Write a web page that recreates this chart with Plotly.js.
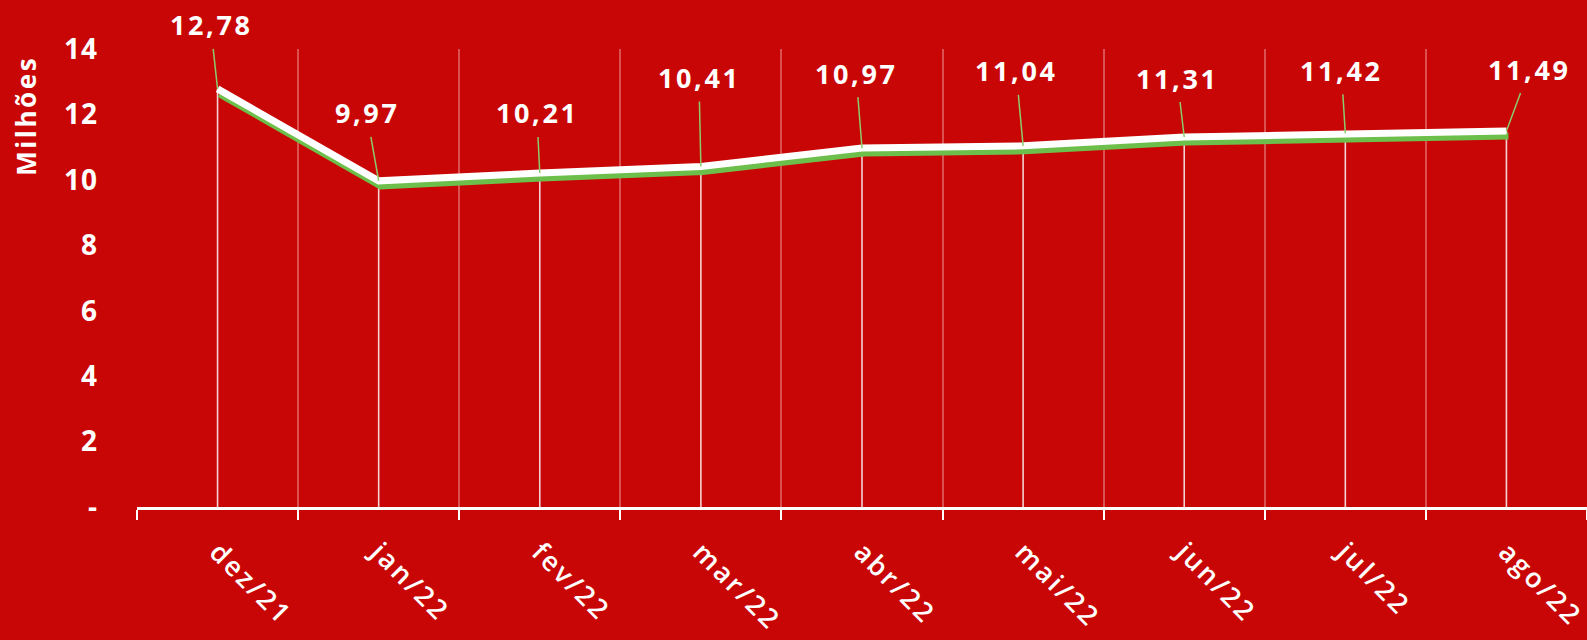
<!DOCTYPE html>
<html>
<head>
<meta charset="utf-8">
<script src="https://cdn.plot.ly/plotly-3.0.1.min.js"></script>
<style>
  html, body { margin: 0; padding: 0; background: #C90606; }
  #chart { width: 1587px; height: 640px; }
  .xtick text { letter-spacing: 2.6px; }
  .ytick text { letter-spacing: 1px; }
  .annotation-text { letter-spacing: 2.6px; }
  .scatterlayer .trace path.js-line { filter: drop-shadow(2.5px 5.5px 0 #6DBF4B); }
</style>
</head>
<body>
<div id="chart"></div>
<script>
// ---- data ----
const categories = ["dez/21", "jan/22", "fev/22", "mar/22", "abr/22", "mai/22", "jun/22", "jul/22", "ago/22"];
const values = [12.78, 9.97, 10.21, 10.41, 10.97, 11.04, 11.31, 11.42, 11.49];
const valueLabels = ["12,78", "9,97", "10,21", "10,41", "10,97", "11,04", "11,31", "11,42", "11,49"];
const yTickVals = [0, 2, 4, 6, 8, 10, 12, 14];
const yTickText = ["-", "2", "4", "6", "8", "10", "12", "14"];

// ---- label placement (pixel offsets, layout only) ----
const labelDx = [-7, -12, -3, -2, -6, -7, -7, -4, 23];
const labelDy = [-64, -68, -60, -89, -75, -75, -59, -63, -62];

const BG = "#C90606";
const FONT = "'Open Sans', 'DejaVu Sans', sans-serif";

const trace = {
  x: categories,
  y: values,
  type: "scatter",
  mode: "lines",
  line: { color: "#FFFFFF", width: 7 },
  error_y: {
    type: "data",
    symmetric: false,
    array: values.map(() => 0),
    arrayminus: values,
    color: "rgba(255,255,255,0.82)",
    thickness: 1.6,
    width: 0
  },
  hoverinfo: "skip",
  cliponaxis: false
};

const annotations = categories.map((c, i) => ({
  x: c,
  y: values[i],
  xref: "x",
  yref: "y",
  text: valueLabels[i],
  showarrow: true,
  arrowhead: 0,
  arrowwidth: 1.5,
  arrowcolor: "#8CCB6C",
  standoff: 0,
  ax: labelDx[i],
  ay: labelDy[i],
  borderpad: 5,
  font: { family: FONT, size: 27, color: "#FFFFFF", weight: 700 }
}));

annotations.push({
  xref: "paper", yref: "paper",
  x: -0.0766, y: 0.854,
  xanchor: "center", yanchor: "middle",
  text: "Milhões",
  textangle: -90,
  showarrow: false,
  font: { family: FONT, size: 26, color: "#FFFFFF", weight: 700 }
});

const layout = {
  width: 1587,
  height: 640,
  paper_bgcolor: BG,
  plot_bgcolor: BG,
  margin: { l: 137, r: 0, t: 49, b: 133, pad: 0 },
  showlegend: false,
  xaxis: {
    type: "category",
    range: [-0.5, 8.5],
    tickson: "boundaries",
    ticks: "outside",
    ticklen: 10,
    tickwidth: 2,
    tickcolor: "#FFFFFF",
    showline: true,
    linecolor: "#FFFFFF",
    linewidth: 2.5,
    showgrid: true,
    gridcolor: "rgba(255,255,255,0.3)",
    gridwidth: 2,
    tickangle: 45,
    ticklabelstandoff: 16,
    tickfont: { family: FONT, size: 27, color: "#FFFFFF", weight: 600 },
    fixedrange: true
  },
  yaxis: {
    range: [0, 14],
    tickvals: yTickVals,
    ticktext: yTickText,
    showgrid: false,
    zeroline: false,
    showline: false,
    ticks: "",
    ticklabelstandoff: 38,
    tickfont: { family: FONT, size: 28, color: "#FFFFFF", weight: 700 },
    fixedrange: true
  },
  annotations: annotations
};

Plotly.newPlot("chart", [trace], layout, { displayModeBar: false, staticPlot: true });
</script>
</body>
</html>
